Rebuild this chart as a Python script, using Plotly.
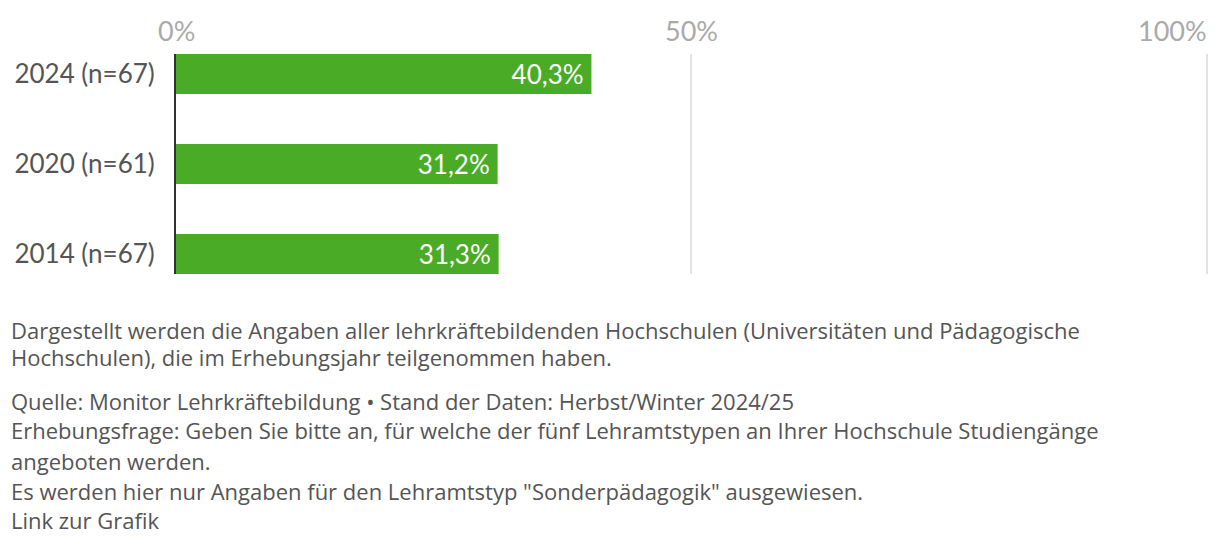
import plotly.graph_objects as go

categories = ["2014 (n=67)", "2020 (n=61)", "2024 (n=67)"]
values = [31.3, 31.2, 40.3]
value_labels = ["31,3%", "31,2%", "40,3%"]
x_ticks = [0, 50, 100]
x_tick_labels = ["0%", "50%", "100%"]

footer_lines = [
    "Dargestellt werden die Angaben aller lehrkräftebildenden Hochschulen (Universitäten und Pädagogische",
    "Hochschulen), die im Erhebungsjahr teilgenommen haben.",
    "Quelle: Monitor Lehrkräftebildung • Stand der Daten: Herbst/Winter 2024/25",
    "Erhebungsfrage: Geben Sie bitte an, für welche der fünf Lehramtstypen an Ihrer Hochschule Studiengänge",
    "angeboten werden.",
    "Es werden hier nur Angaben für den Lehramtstyp \"Sonderpädagogik\" ausgewiesen.",
    "Link zur Grafik",
]
footer_y_px = [330, 357, 401, 430, 461, 491, 520]

FONT = "Lato"
FOOT_FONT = "Open Sans"
OFF = 8  # page body margin
W, H = 1204, 528
X_MAX = 100.5
L = 176 - OFF
R = 0
T = 54 - OFF
B = (OFF + H) - 274
plot_h = H - T - B
plot_w = W - L - R

fig = go.Figure()
fig.add_trace(go.Bar(
    y=categories, x=values, orientation="h",
    width=0.444,
    marker=dict(color="#4aac26", line=dict(width=0)),
    text=value_labels,
    texttemplate="%{text}\u2009\u200a",
    textposition="inside", insidetextanchor="end",
    textfont=dict(family=FONT, size=26, color="white"),
    hoverinfo="skip",
))

fig.update_layout(
    template="none",
    width=W, height=H,
    margin=dict(l=L, r=R, t=T, b=B, pad=0),
    paper_bgcolor="white", plot_bgcolor="white",
    showlegend=False,
    font=dict(family=FONT, color="#555555"),
    xaxis=dict(range=[0, X_MAX], tickvals=x_ticks, showticklabels=False,
               showgrid=True, gridcolor="#e3e3e3", gridwidth=2,
               zeroline=False, showline=False, fixedrange=True,
               automargin=False, ticks=""),
    yaxis=dict(type="category", categoryorder="array", categoryarray=categories,
               range=[-0.2222, 2.2222],
               showline=True, linecolor="#333333", linewidth=2,
               showgrid=False, zeroline=False, ticks="",
               ticklabelstandoff=14, automargin=False,
               tickfont=dict(family=FONT, size=26, color="#555555")),
)

for v, lab in zip(x_ticks, x_tick_labels):
    fig.add_annotation(x=v, y=1, xref="x", yref="paper",
                       yshift=24, yanchor="middle",
                       xanchor="right" if v == 100 else "center",
                       xshift=2 if v == 100 else 0,
                       text=lab, showarrow=False,
                       font=dict(family=FONT, size=27, color="#aaaaaa"))

for line, ypx in zip(footer_lines, footer_y_px):
    fig.add_annotation(x=(9 - OFF - L) / plot_w,
                       y=(T + plot_h - (ypx - OFF)) / plot_h,
                       xref="paper", yref="paper", xanchor="left", yanchor="middle",
                       text=line, showarrow=False, align="left",
                       font=dict(family=FOOT_FONT, size=22, color="#555555"))

fig.write_html("out.html")
